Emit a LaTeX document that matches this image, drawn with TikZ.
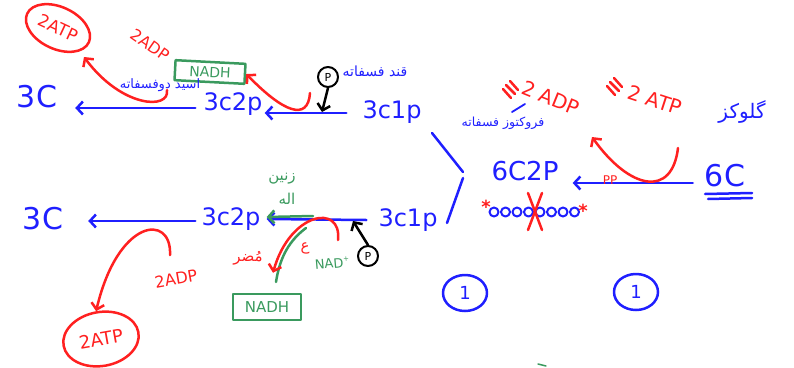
\documentclass[tikz,border=0pt]{standalone}
\usepackage{fontspec}
\setmainfont{DejaVu Sans}
\newfontfamily\fa[Script=Arabic]{DejaVu Sans}
\TeXXeTstate=1
\usetikzlibrary{arrows.meta,calc,shapes.geometric}
\definecolor{hb}{HTML}{1F1FFF}
\definecolor{hr}{HTML}{FF2020}
\definecolor{hg}{HTML}{3A9A5E}
\newcommand\fsz[1]{\fontsize{#1}{#1}\selectfont}
\newcommand\rtl[1]{{\fa\beginR #1\endR}}
\begin{document}
\begin{tikzpicture}[x=1pt,y=-1pt,line cap=round,line join=round,
  pen/.style={line width=2.5pt},
  bl/.style={text=hb,inner sep=0pt},
  rd/.style={text=hr,inner sep=0pt},
  gr/.style={text=hg,inner sep=0pt},
  tip/.style={-{Straight Barb[length=6pt,width=13pt,line width=2.5pt]}},
  barr/.style={pen,draw=hb,tip},
  rarr/.style={pen,draw=hr,tip},
  garr/.style={pen,draw=hg,tip},
  karr/.style={pen,draw=black,tip},
  pcirc/.style={draw=black,line width=2pt,circle,minimum size=20pt,inner sep=0pt,font=\fsz{11}},
  ring/.style={draw=hr,pen,ellipse,text=hr,inner sep=0pt},
  box/.style={draw=hg,pen,text=hg,inner sep=0pt},
  one/.style={draw=hb,pen,ellipse,text=hb,inner sep=0pt,font=\fsz{18},minimum width=44pt,minimum height=36pt}
]
\useasboundingbox (0,0) rectangle (794,367);

% ---------- top row ----------
\node[bl,font=\fsz{30}] (t3) at (37,97) {3C};
\node[bl,font=\fsz{24}] (t32) at (233,104) {3c2p};
\node[bl,font=\fsz{24}] (t31) at (392,112) {3c1p};
\draw[barr] ($(t32.west)+(-8,4)$) -- ($(t3.east)+(18,11)$);
\draw[barr] ($(t31.west)+(-16,1)$) -- ($(t32.east)+(2,9)$);

\node[ring,minimum width=68pt,minimum height=42pt,rotate=-25,font=\fsz{17}] (tatp) at (58,28) {2ATP};
\coordinate (tatpin) at (84,57);
\coordinate (rc1) at (167,90);
\draw[rarr] (rc1) .. controls (170,110) and (122,108) .. (tatpin);

\node[rd,font=\fsz{16},rotate=-35] (tadp) at (150,45) {2ADP};
\node[box,font=\fsz{14},minimum width=70pt,minimum height=20pt,rotate=-3] (tnadh) at (210,72) {NADH};
\coordinate (rc2) at (310,93);
\draw[rarr] (rc2) .. controls (308,122) and (283,112) .. (tnadh.east);

\node[pcirc] (tp) at (328,77) {P};
\draw[karr] (tp.south) -- ($(tp.south)+(-6,24)$);

\node[bl,font=\fsz{14}] (tl1) at (375,71) {\rtl{قند فسفاته}};
\node[bl,font=\fsz{13}] (tl2) at (160,85) {\rtl{اسید دوفسفاته}};

% ---------- right part ----------
\node[bl,font=\fsz{30}] (r6) at (725,176) {6C};
\draw[pen,hb] (705,194) -- (752,193);
\draw[pen,hb] (708,199) -- (752,198);
\node[bl,font=\fsz{26}] (r62) at (525,171) {6C2P};
\draw[barr] ($(r6.west)+(-12,7)$) -- ($(r62.east)+(14,12)$);
\node[rd,font=\fsz{12}] (pp) at (610,180) {PP};
\coordinate (rc3) at (678,148);
\coordinate (rc3e) at (592,137);
\draw[rarr] (rc3) .. controls (672,198) and (630,190) .. (rc3e);

\node[rd,font=\fsz{20},rotate=-18] (ratp) at (655,100) {2 ATP};
\draw[pen,hr] (607,86) -- (615,95);
\draw[pen,hr] (610,82) -- (619,91);
\draw[pen,hr] (614,78) -- (622,87);
\node[rd,font=\fsz{20},rotate=-22] (radp) at (551,98) {2 ADP};
\draw[pen,hr] (503,89) -- (511,98);
\draw[pen,hr] (506,85) -- (515,94);
\draw[pen,hr] (510,81) -- (518,90);

\node[bl,font=\fsz{20}] (glc) at (742,112) {\rtl{گلوکز}};
\node[bl,font=\fsz{12.5}] (fru) at (503,123) {\rtl{فروکتوز فسفاته}};
\draw[hb,line width=1.8pt] (512,112) -- (525,104);

\foreach \i in {0,...,7} \draw[hb,line width=2pt] (494+\i*11.5,212) circle (4.5);
\node[rd,font=\bfseries\fsz{18}] (st1) at (486,207) {*};
\node[rd,font=\bfseries\fsz{18}] (st2) at (583,211) {*};
\draw[pen,hr] (528,193) -- (542,230);
\draw[pen,hr] (542,193) -- (528,230);

\draw[pen,hb] (432,133) -- (463,172);
\draw[pen,hb] (463,178) -- (447,223);

% ---------- bottom row ----------
\node[bl,font=\fsz{30}] (b3) at (43,219) {3C};
\node[bl,font=\fsz{24}] (b32) at (231,219) {3c2p};
\node[bl,font=\fsz{24}] (b31) at (408,220) {3c1p};
\draw[barr] ($(b32.west)+(-6,2)$) -- ($(b3.east)+(25,2)$);
\draw[barr] ($(b31.west)+(-12,0)$) -- ($(b32.east)+(6,0)$);
\coordinate (gs) at (313,216);
\draw[garr] (gs) -- ($(b32.east)+(6,-2)$);

\node[pcirc] (bp) at (368,256) {P};
\draw[karr] (bp.north) -- ($(bp.north)+(-15,-24)$);
\node[gr,font=\fsz{13},rotate=5] (nad) at (332,263) {NAD\raisebox{6pt}{\fsz{7}+}};

\node[box,font=\fsz{15},minimum width=68pt,minimum height=26pt] (bnadh) at (267,307) {NADH};
\coordinate (gc) at (306,228);
\draw[pen,hg] (gc) .. controls (290,240) and (280,256) .. (276,282);
\coordinate (rc4) at (338,240);
\draw[rarr] (rc4) .. controls (342,203) and (290,212) .. ($(bnadh.north)+(6,-20)$);

\node[rd,font=\fsz{15}] (ain) at (305,248) {\rtl{ع}};
\node[rd,font=\fsz{15}] (mz) at (248,258) {\rtl{مُضر}};
\node[gr,font=\fsz{15}] (z1) at (282,179) {\rtl{زنین}};
\node[gr,font=\fsz{15}] (z2) at (287,199) {\rtl{اله}};

\node[ring,minimum width=76pt,minimum height=54pt,rotate=10,font=\fsz{18}] (batp) at (101,339) {2ATP};
\coordinate (rc5) at (170,255);
\draw[rarr] (rc5) .. controls (172,213) and (118,218) .. (batp.north);
\node[rd,font=\fsz{16},rotate=10] (badp) at (176,279) {2ADP};

\node[one] (o1) at (465,293) {1};
\node[one] (o2) at (636,292) {1};

\draw[hg,line width=1.5pt] (538,364) -- (546,366);
\end{tikzpicture}
\end{document}
